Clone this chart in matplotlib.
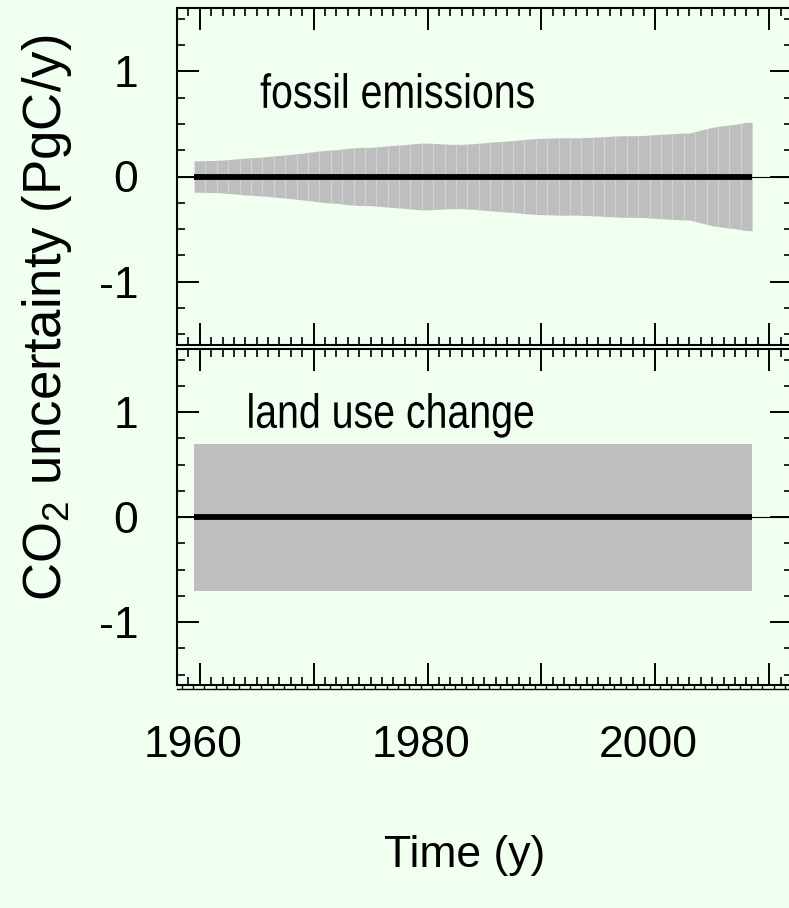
import matplotlib
matplotlib.use("Agg")
import matplotlib.pyplot as plt
import numpy as np
from matplotlib.ticker import MultipleLocator
from matplotlib.patheffects import AbstractPathEffect
from matplotlib.transforms import Affine2D

plt.rcParams["font.family"] = ["Liberation Sans", "DejaVu Sans"]
plt.rcParams["mathtext.default"] = "regular"
plt.rcParams["axes.unicode_minus"] = False

# 1-sigma uncertainty of the CO2 sources, PgC/y
years = np.arange(1960, 2009)
fossil_unc = [
    0.149, 0.152, 0.156, 0.165, 0.175, 0.181, 0.190, 0.200, 0.210, 0.222,
    0.235, 0.248, 0.254, 0.267, 0.276, 0.276, 0.286, 0.295, 0.302, 0.314,
    0.317, 0.311, 0.305, 0.305, 0.311, 0.321, 0.330, 0.337, 0.346, 0.356,
    0.362, 0.365, 0.368, 0.366, 0.371, 0.375, 0.381, 0.387, 0.387, 0.390,
    0.397, 0.403, 0.410, 0.413, 0.441, 0.467, 0.483, 0.495, 0.514,
]
landuse_unc = [0.7] * len(years)
panel_names = ["fossil emissions", "land use change"]

BG = "#F0FFF0"
BAND = "#BEBEBE"
SEAM = "#D2D2D2"
W, H = 789, 908


class Narrow(AbstractPathEffect):
    """Squeeze glyphs horizontally (a stand-in for a narrow typeface)."""

    def __init__(self, sx=0.82):
        super().__init__()
        self._sx = sx

    def draw_path(self, renderer, gc, tpath, affine, rgbFace=None):
        renderer.draw_path(gc, tpath, Affine2D().scale(self._sx, 1) + affine, rgbFace)


fig = plt.figure(figsize=(W / 100, H / 100), dpi=100, facecolor=BG)


def px_axes(left, top, right, bottom):
    return fig.add_axes([left / W, 1 - bottom / H, (right - left) / W, (bottom - top) / H])


def draw_panel(ax, unc, name, text_xy, seams):
    unc = np.asarray(unc)
    # band spans each year from -0.5 to +0.5
    x = np.concatenate([[years[0] - 0.5], years, [years[-1] + 0.5]])
    u = np.concatenate([[unc[0]], unc, [unc[-1]]])
    ax.fill_between(x, -u, u, color=BAND, lw=0, zorder=1)
    if seams:
        xs = years[:-1] + 0.5
        us = np.interp(xs, x, u)
        ax.vlines(xs, -us, us, color=SEAM, lw=0.8, zorder=1.5)
    ax.axhline(0, color="black", lw=0.8, zorder=2)
    ax.hlines(0, years[0] - 0.5, years[-1] + 0.5, color="black", lw=4.2, zorder=3)

    ax.set_facecolor(BG)
    ax.set_xlim(1958, 2012)
    ax.set_ylim(-1.6, 1.6)
    ax.xaxis.set_major_locator(MultipleLocator(10))
    ax.xaxis.set_minor_locator(MultipleLocator(1))
    ax.yaxis.set_major_locator(MultipleLocator(1))
    ax.yaxis.set_minor_locator(MultipleLocator(0.25))
    ax.yaxis.set_major_formatter(lambda v, p: f"{v:.0f}")
    ax.tick_params(which="both", direction="in", top=True, right=True,
                   labelbottom=False, color="black")
    ax.tick_params(which="major", length=15.8, width=1.4, labelsize=32, pad=28)
    ax.tick_params(which="minor", length=5.8, width=1.2)
    for sp in ax.spines.values():
        sp.set_linewidth(1.5)
    ax.text(text_xy[0], text_xy[1], name, ha="left", va="baseline",
            fontsize=34.5, path_effects=[Narrow(0.82)])


ax1 = px_axes(177, 8, 792, 345)
ax2 = px_axes(177, 349, 792, 685)
draw_panel(ax1, fossil_unc, panel_names[0], (1965.3, 0.652), True)
draw_panel(ax2, landuse_unc, panel_names[1], (1964.1, 0.85), False)

# outer time axis just below the lower panel
axo = px_axes(177, 660, 792, 689)
axo.patch.set_visible(False)
for side in ["top", "left", "right"]:
    axo.spines[side].set_visible(False)
axo.spines["bottom"].set_linewidth(1.0)
axo.set_xlim(1958.6, 2012.6)
axo.set_yticks([])
axo.xaxis.set_major_locator(MultipleLocator(20))
axo.xaxis.set_minor_locator(MultipleLocator(1))
axo.tick_params(which="both", direction="in", length=3, width=1.0)
axo.tick_params(which="major", labelsize=32, pad=26)

fig.text(47 / W, 1 - 318 / H, "CO$_2$ uncertainty (PgC/y)", rotation=90,
         ha="center", va="center", fontsize=38)
fig.text(465 / W, 1 - 855 / H, "Time (y)", ha="center", va="center", fontsize=32)

fig.savefig("out.png", dpi=100, facecolor=BG)
